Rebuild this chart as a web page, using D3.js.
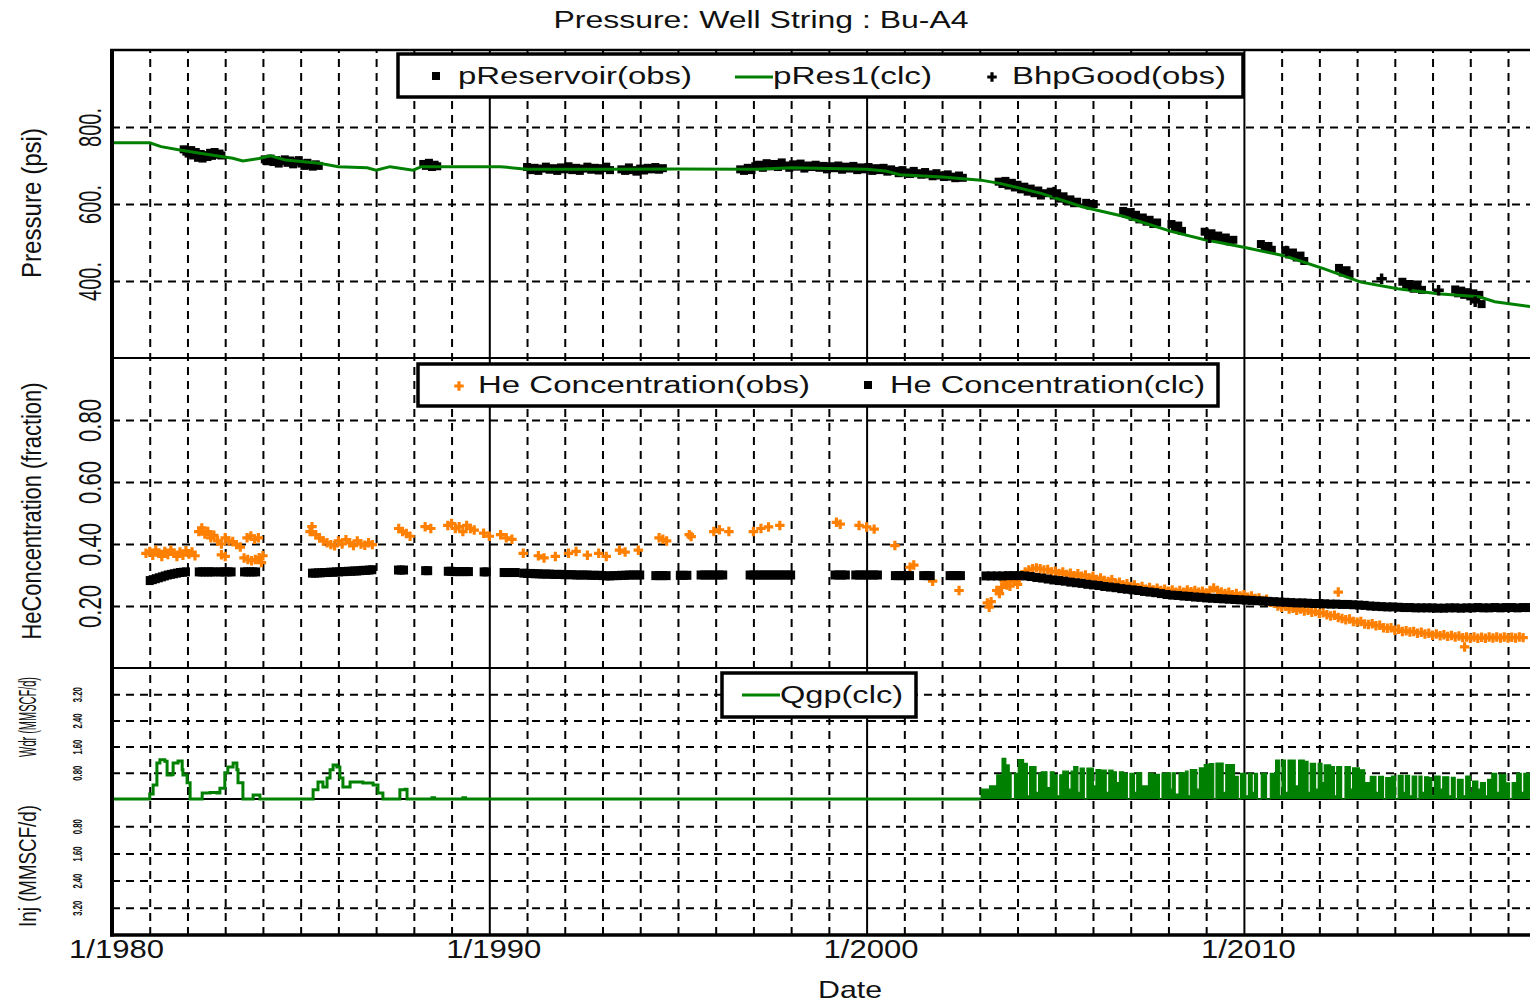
<!DOCTYPE html>
<html><head><meta charset="utf-8">
<script src="https://cdn.jsdelivr.net/npm/d3@7"></script>
<style>
html,body{margin:0;padding:0;background:#fff;}
svg{display:block;font-family:"Liberation Sans",Arial,sans-serif;}
</style></head><body>
<svg id="chart" width="1530" height="1004"></svg>
<script>
// ---------------- DATA ----------------
const decadeTicks = [1980, 1990, 2000, 2010];
const pressureTicks = [400, 600, 800];
const heTicks = [0.2, 0.4, 0.6, 0.8];
const rateTicks = [0.8, 1.6, 2.4, 3.2];

// pRes1(clc) [year, psi]
const pRes1 = [
 [1980.0,759],[1981.0,759],[1981.3,749],[1981.8,740],[1982.33,732],[1982.94,723],[1983.2,719],[1983.47,712],
 [1983.9,718],[1984.2,725],[1984.6,714],[1985.5,706],[1986.0,697],[1986.76,694],[1987.0,688],[1987.37,697],
 [1987.98,688],[1988.2,697],[1989.0,697],[1990.3,697],[1991.0,690],[1993.0,690],[1995.0,691],[1997.0,690],
 [1998.0,694],[1999.0,692],[2000.0,690],[2000.5,686],[2000.88,676],[2002.0,670],[2003.03,662],[2003.56,653],
 [2004.65,627],[2005.71,593],[2006.8,568],[2008.07,529],[2008.94,508],[2010.03,487],[2011.09,465],[2012.15,431],
 [2013.1,397],[2014.08,380],[2015.14,367],[2016.23,359],[2016.65,346],[2017.63,333]
];

// pReservoir(obs) [year, psi]
const pReservoirObs = [
 [1981.9,742],[1981.97,736],[1982.03,731],[1982.1,740],[1982.15,726],[1982.22,735],[1982.28,720],[1982.35,730],
 [1982.4,718],[1982.47,727],[1982.53,722],[1982.6,733],[1982.65,725],[1982.72,735],[1982.78,728],[1982.85,731],[1982.9,726],
 [1984.05,716],[1984.12,711],[1984.2,718],[1984.28,709],[1984.35,714],[1984.42,705],[1984.5,712],[1984.58,716],
 [1984.65,707],[1984.72,713],[1984.8,703],[1984.88,710],[1984.95,714],[1985.02,705],[1985.1,699],[1985.18,707],
 [1985.25,701],[1985.32,697],[1985.4,703],[1985.48,699],
 [1988.25,704],[1988.32,699],[1988.4,707],[1988.48,696],[1988.55,702],[1988.62,698],
 [1991.0,696],[1991.1,688],[1991.2,694],[1991.3,686],[1991.4,692],[1991.5,697],[1991.6,689],[1991.7,693],
 [1991.8,686],[1991.9,695],[1992.0,690],[1992.1,698],[1992.2,688],[1992.3,694],[1992.4,686],[1992.5,692],
 [1992.6,697],[1992.7,689],[1992.8,694],[1992.9,687],[1993.0,693],[1993.1,697],[1993.2,688],
 [1993.5,690],[1993.6,686],[1993.7,695],[1993.8,688],[1993.9,684],[1994.0,692],[1994.1,687],[1994.2,694],
 [1994.3,690],[1994.4,696],[1994.5,689],[1994.6,693],
 [1996.65,690],[1996.75,686],[1996.85,694],[1996.95,688],[1997.05,698],[1997.15,702],[1997.25,694],[1997.35,706],
 [1997.45,698],[1997.55,704],[1997.65,696],[1997.75,708],[1997.85,700],[1997.95,694],[1998.05,703],[1998.15,697],
 [1998.25,705],[1998.35,692],[1998.45,700],[1998.55,696],[1998.65,702],[1998.75,694],[1998.85,699],[1998.95,690],
 [1999.05,698],[1999.15,693],[1999.25,700],[1999.35,689],[1999.45,697],[1999.55,692],[1999.65,699],[1999.75,688],
 [1999.85,695],[1999.95,690],[2000.05,696],[2000.15,686],[2000.25,693],[2000.35,688],[2000.45,694],[2000.55,684],
 [2000.65,690],[2000.75,686],[2000.85,680],[2000.95,688],[2001.05,682],[2001.15,678],[2001.25,686],[2001.35,680],
 [2001.45,676],[2001.55,683],[2001.65,677],[2001.75,672],[2001.85,680],[2001.95,674],[2002.05,670],[2002.15,677],
 [2002.25,671],[2002.35,667],[2002.45,674],[2002.55,668],
 [2003.5,658],[2003.6,652],[2003.68,660],[2003.76,648],[2003.85,655],[2003.93,643],[2004.0,650],[2004.1,638],
 [2004.18,645],[2004.27,632],[2004.35,640],[2004.45,628],[2004.55,635],[2004.62,622],[2004.7,628],
 [2004.88,632],[2004.96,622],[2005.05,628],[2005.14,614],[2005.22,620],[2005.3,608],[2005.4,612],[2005.5,602],[2005.58,606],
 [2005.82,603],[2005.92,596],[2006.02,600],
 [2006.8,582],[2006.88,574],[2006.96,579],[2007.05,567],[2007.14,572],[2007.23,560],[2007.32,565],[2007.42,554],
 [2007.5,559],[2007.6,548],[2007.7,552],
 [2008.08,548],[2008.17,538],[2008.26,544],[2008.36,530],
 [2008.96,528],[2009.05,519],[2009.14,524],[2009.23,513],[2009.32,518],[2009.42,508],[2009.52,513],[2009.62,503],[2009.72,507],
 [2010.45,496],[2010.55,486],[2010.65,491],[2010.74,481],
 [2011.1,480],[2011.2,469],[2011.3,474],[2011.4,461],[2011.5,466],[2011.6,452],
 [2012.52,434],[2012.62,422],[2012.72,428],[2012.8,418],
 [2014.2,398],[2014.3,386],[2014.4,392],[2014.5,380],[2014.6,387],[2014.72,377],
 [2015.6,378],[2015.68,368],[2015.76,375],[2015.84,364],[2015.92,371],[2016.0,360],[2016.08,368],[2016.16,356],
 [2016.24,364],[2016.3,340]
];

// BhpGood(obs) [year, psi]
const bhpGoodObs = [
 [2004.97,631],[2007.06,576],[2009.09,512],[2011.13,478],[2013.65,406],[2014.4,389],[2015.16,376],[2016.13,346]
];

// He Concentration(obs) [year, fraction]
const heObs = [
 [1980.9,0.37],[1981.0,0.376],[1981.08,0.364],[1981.16,0.38],[1981.24,0.37],[1981.32,0.36],[1981.4,0.376],[1981.48,0.366],
 [1981.56,0.38],[1981.64,0.37],[1981.72,0.36],[1981.8,0.374],[1981.88,0.364],[1981.96,0.378],[1982.04,0.368],[1982.12,0.374],[1982.2,0.362],
 [1982.3,0.44],[1982.38,0.452],[1982.46,0.432],[1982.54,0.44],[1982.62,0.42],[1982.7,0.428],[1982.8,0.41],[1982.9,0.4],
 [1982.9,0.365],[1983.0,0.42],[1983.0,0.36],[1983.1,0.41],[1983.2,0.408],[1983.3,0.398],[1983.4,0.39],
 [1983.58,0.42],[1983.68,0.426],[1983.78,0.415],[1983.88,0.42],
 [1983.5,0.355],[1983.6,0.35],[1983.7,0.346],[1983.8,0.35],[1983.9,0.356],[1983.96,0.34],[1984.0,0.362],
 [1985.25,0.44],[1985.3,0.456],[1985.4,0.43],[1985.5,0.42],[1985.6,0.41],[1985.7,0.404],[1985.8,0.398],[1985.9,0.394],
 [1986.0,0.41],[1986.1,0.4],[1986.2,0.414],[1986.3,0.404],[1986.4,0.395],[1986.5,0.41],[1986.6,0.4],[1986.7,0.396],
 [1986.8,0.404],[1986.9,0.398],
 [1987.6,0.45],[1987.7,0.44],[1987.8,0.434],[1987.9,0.425],
 [1988.3,0.456],[1988.45,0.45],
 [1988.9,0.46],[1989.0,0.466],[1989.1,0.45],[1989.2,0.456],[1989.3,0.44],[1989.4,0.46],[1989.5,0.45],[1989.6,0.445],
 [1989.85,0.435],[1990.0,0.425],
 [1990.3,0.43],[1990.45,0.42],[1990.6,0.415],
 [1990.9,0.37],[1991.3,0.362],[1991.45,0.355],[1991.75,0.36],[1992.1,0.37],[1992.3,0.376],[1992.6,0.364],[1992.9,0.37],
 [1993.1,0.36],[1993.45,0.38],[1993.6,0.374],[1993.95,0.38],
 [1994.5,0.42],[1994.6,0.415],[1994.7,0.41],[1995.3,0.43],[1995.35,0.424],[1995.95,0.44],[1996.1,0.446],[1996.35,0.44],
 [1997.0,0.44],[1997.2,0.45],[1997.4,0.455],[1997.7,0.46],
 [1999.2,0.47],[1999.3,0.464],[1999.8,0.46],[2000.0,0.455],[2000.2,0.448],
 [2000.75,0.395],[2001.15,0.325],[2001.25,0.332],[2001.75,0.28],[2002.45,0.25],
 [2003.2,0.21],[2003.25,0.196],[2003.3,0.214],[2003.45,0.25],[2003.52,0.24],[2003.58,0.26],[2003.65,0.28],[2003.72,0.268],
 [2003.8,0.264],[2003.9,0.28],[2004.0,0.27],[2004.05,0.29],[2004.12,0.3],[2004.2,0.31],[2004.3,0.316],[2004.4,0.32],
 [2004.5,0.323],[2004.6,0.32],[2004.7,0.316],[2004.8,0.318],[2004.9,0.31],[2005.0,0.312],[2005.1,0.305],[2005.2,0.31],
 [2005.3,0.302],[2005.4,0.306],[2005.5,0.298],[2005.6,0.304],[2005.7,0.296],[2005.8,0.3],[2005.9,0.29],[2006.0,0.296],
 [2006.1,0.285],[2006.2,0.29],[2006.3,0.282],[2006.4,0.279],[2006.5,0.285],[2006.6,0.272],[2006.7,0.277],[2006.8,0.268],
 [2006.9,0.272],[2007.0,0.263],[2007.1,0.268],[2007.2,0.258],[2007.3,0.263],[2007.4,0.254],[2007.5,0.26],[2007.6,0.252],
 [2007.7,0.257],[2007.8,0.25],[2007.9,0.254],[2008.0,0.248],[2008.1,0.252],[2008.2,0.244],[2008.3,0.25],[2008.4,0.244],
 [2008.5,0.252],[2008.6,0.246],[2008.7,0.25],[2008.8,0.244],[2008.9,0.248],[2009.0,0.242],[2009.1,0.25],[2009.2,0.258],
 [2009.3,0.25],[2009.4,0.245],[2009.5,0.24],[2009.6,0.244],[2009.7,0.236],[2009.8,0.24],[2009.9,0.232],[2010.0,0.236],
 [2010.1,0.228],[2010.2,0.232],[2010.3,0.224],[2010.4,0.226],[2010.5,0.218],[2010.6,0.222],[2010.7,0.212],[2010.8,0.21],
 [2010.9,0.2],[2011.0,0.196],[2011.1,0.2],[2011.2,0.19],[2011.3,0.193],[2011.4,0.186],[2011.5,0.19],[2011.6,0.184],
 [2011.7,0.186],[2011.8,0.18],[2011.9,0.182],[2012.0,0.176],[2012.1,0.178],[2012.2,0.172],[2012.3,0.168],[2012.4,0.17],
 [2012.5,0.245],[2012.5,0.163],[2012.6,0.16],[2012.7,0.156],[2012.8,0.158],[2012.9,0.15],[2013.0,0.148],[2013.1,0.15],
 [2013.2,0.142],[2013.3,0.14],[2013.4,0.143],[2013.5,0.136],[2013.6,0.138],[2013.7,0.13],[2013.8,0.128],[2013.9,0.13],
 [2014.0,0.122],[2014.1,0.125],[2014.2,0.118],[2014.3,0.12],[2014.4,0.116],[2014.5,0.118],[2014.6,0.112],[2014.7,0.115],
 [2014.8,0.11],[2014.9,0.112],[2015.0,0.106],[2015.1,0.11],[2015.2,0.104],[2015.3,0.107],[2015.4,0.102],[2015.5,0.105],
 [2015.6,0.1],[2015.7,0.103],[2015.85,0.068],[2015.8,0.098],[2015.9,0.1],[2016.0,0.096],[2016.1,0.1],[2016.2,0.096],
 [2016.3,0.099],[2016.4,0.096],[2016.5,0.1],[2016.6,0.097],[2016.7,0.1],[2016.8,0.097],[2016.9,0.1],[2017.0,0.097],
 [2017.1,0.099],[2017.2,0.097],[2017.3,0.1],[2017.4,0.098]
];

// He Concentration(clc) [year, fraction]
const heClc = [
 [1981.0,0.282],[1981.08,0.285],[1981.16,0.288],[1981.24,0.291],[1981.32,0.294],[1981.4,0.297],[1981.48,0.3],[1981.56,0.302],
 [1981.64,0.304],[1981.72,0.306],[1981.8,0.308],[1981.88,0.309],[1981.96,0.31],
 [1982.3,0.31],[1982.38,0.31],[1982.46,0.31],[1982.54,0.31],[1982.62,0.31],[1982.7,0.31],
 [1982.85,0.31],[1982.93,0.31],[1983.01,0.31],[1983.09,0.31],[1983.17,0.31],
 [1983.5,0.31],[1983.58,0.31],[1983.66,0.31],[1983.74,0.31],[1983.82,0.31],
 [1985.3,0.306],[1985.38,0.306],[1985.46,0.307],[1985.54,0.307],[1985.62,0.308],[1985.7,0.308],[1985.78,0.309],
 [1985.86,0.309],[1985.94,0.31],[1986.02,0.31],[1986.1,0.311],[1986.18,0.311],[1986.26,0.312],[1986.34,0.312],
 [1986.42,0.313],[1986.5,0.313],[1986.58,0.314],[1986.66,0.315],[1986.74,0.315],[1986.82,0.316],[1986.9,0.317],
 [1987.58,0.316],[1987.66,0.316],[1987.74,0.316],
 [1988.3,0.314],[1988.38,0.314],
 [1988.9,0.312],[1988.98,0.312],[1989.06,0.311],[1989.14,0.311],[1989.22,0.311],[1989.3,0.311],[1989.38,0.311],[1989.46,0.311],
 [1989.85,0.31],[1989.93,0.31],
 [1990.38,0.308],[1990.46,0.308],[1990.54,0.308],[1990.62,0.308],[1990.7,0.308],
 [1990.9,0.306],[1991.0,0.305],[1991.1,0.305],[1991.2,0.304],[1991.3,0.304],[1991.4,0.303],[1991.5,0.303],[1991.6,0.303],
 [1991.7,0.302],[1991.8,0.302],[1991.9,0.302],[1992.0,0.301],[1992.1,0.301],[1992.2,0.301],[1992.3,0.3],[1992.4,0.3],
 [1992.5,0.3],[1992.6,0.3],[1992.7,0.299],[1992.8,0.299],[1992.9,0.299],[1993.0,0.298],[1993.1,0.297],[1993.2,0.297],
 [1993.3,0.298],[1993.4,0.298],[1993.5,0.299],[1993.6,0.299],[1993.7,0.3],[1993.8,0.3],[1993.9,0.3],[1994.0,0.3],
 [1994.4,0.298],[1994.5,0.298],[1994.6,0.298],[1994.7,0.298],
 [1995.05,0.299],[1995.15,0.299],[1995.25,0.299],
 [1995.6,0.3],[1995.7,0.3],[1995.8,0.3],[1995.9,0.3],[1996.0,0.3],[1996.1,0.3],[1996.2,0.3],
 [1996.9,0.3],[1997.0,0.3],[1997.1,0.3],[1997.2,0.3],[1997.3,0.3],[1997.4,0.3],[1997.5,0.3],[1997.6,0.3],
 [1997.7,0.3],[1997.8,0.3],[1997.9,0.3],[1998.0,0.3],
 [1999.15,0.3],[1999.25,0.3],[1999.35,0.3],[1999.45,0.3],
 [1999.7,0.3],[1999.8,0.3],[1999.9,0.3],[2000.0,0.3],[2000.1,0.3],[2000.2,0.3],[2000.3,0.3],
 [2000.75,0.298],[2000.85,0.298],[2000.95,0.298],[2001.05,0.298],[2001.15,0.298],
 [2001.5,0.298],[2001.6,0.298],[2001.7,0.298],
 [2002.2,0.298],[2002.3,0.298],[2002.4,0.298],[2002.5,0.298],
 [2003.15,0.297],[2003.3,0.297],[2003.45,0.297],[2003.6,0.297],[2003.75,0.298],[2003.9,0.298],[2004.05,0.298],[2004.2,0.297],
 [2004.35,0.295],[2004.5,0.292],[2004.65,0.29],[2004.8,0.287],[2004.95,0.284],[2005.1,0.282],[2005.25,0.28],[2005.4,0.277],
 [2005.55,0.275],[2005.7,0.273],[2005.85,0.27],[2006.0,0.268],[2006.15,0.266],[2006.3,0.263],[2006.45,0.261],[2006.6,0.259],
 [2006.75,0.256],[2006.9,0.254],[2007.05,0.252],[2007.2,0.25],[2007.35,0.247],[2007.5,0.245],[2007.65,0.243],[2007.8,0.24],
 [2007.95,0.237],[2008.1,0.235],[2008.25,0.234],[2008.4,0.232],[2008.55,0.231],[2008.7,0.229],[2008.85,0.228],[2009.0,0.226],
 [2009.15,0.225],[2009.3,0.224],[2009.45,0.223],[2009.6,0.222],[2009.75,0.221],[2009.9,0.22],[2010.05,0.219],[2010.2,0.218],
 [2010.35,0.217],[2010.5,0.216],[2010.65,0.215],[2010.8,0.214],[2010.95,0.213],[2011.1,0.212],[2011.25,0.211],[2011.4,0.21],
 [2011.55,0.21],[2011.7,0.209],[2011.85,0.208],[2012.0,0.208],[2012.15,0.207],[2012.3,0.206],[2012.45,0.206],[2012.6,0.205],
 [2012.75,0.205],[2012.9,0.204],[2013.05,0.203],[2013.2,0.202],[2013.35,0.2],[2013.5,0.199],[2013.65,0.198],[2013.8,0.197],
 [2013.95,0.197],[2014.1,0.196],[2014.25,0.195],[2014.4,0.195],[2014.55,0.194],[2014.7,0.194],[2014.85,0.194],[2015.0,0.194],
 [2015.15,0.193],[2015.3,0.193],[2015.45,0.194],[2015.6,0.194],[2015.75,0.193],[2015.9,0.194],[2016.05,0.194],[2016.2,0.195],
 [2016.35,0.194],[2016.5,0.194],[2016.65,0.195],[2016.8,0.194],[2016.95,0.195],[2017.1,0.195],[2017.25,0.194],[2017.4,0.195],[2017.55,0.195]
];

// Qgp(clc) withdrawal rate, MMSCF/d, step-after [year, value]
const qgpEarly = [
 [1980.0,0],[1981.0,0.15],[1981.09,0.43],[1981.19,1.1],[1981.27,1.2],[1981.4,1.15],[1981.46,0.73],[1981.59,0.75],
 [1981.62,1.1],[1981.75,1.16],[1981.86,0.89],[1981.88,0.73],[1981.99,0.5],[1982.07,0],[1982.39,0.18],[1982.6,0.2],
 [1982.78,0.18],[1982.86,0.33],[1982.99,0.8],[1983.07,0.98],[1983.21,1.1],[1983.31,0.89],[1983.34,0.5],[1983.47,0],
 [1983.74,0.12],[1983.92,0],[1985.33,0.28],[1985.46,0.52],[1985.59,0.37],[1985.7,0.64],[1985.78,0.89],[1985.86,1.04],
 [1985.96,0.98],[1986.04,0.64],[1986.12,0.37],[1986.31,0.52],[1986.65,0.49],[1986.92,0.43],[1987.05,0.18],[1987.18,0],
 [1987.63,0.28],[1987.77,0.3],[1987.82,0],[1988.48,0.04],[1988.55,0],[1989.3,0.04],[1989.37,0],[2003.02,0]
];
const qgpLate = [
 [2003.02,0.3],[2003.26,0.4],[2003.45,0.74],[2003.59,1.24],[2003.69,1.04],[2003.78,0.78],[2003.83,0],[2003.92,0.78],
 [2004.02,1.2],[2004.16,1.09],[2004.26,0.1],[2004.32,0.99],[2004.49,0.2],[2004.56,0.78],[2004.63,0.83],[2004.78,0.35],
 [2004.87,0.83],[2004.97,0.74],[2005.05,0.1],[2005.12,0.74],[2005.2,0.85],[2005.35,0.3],[2005.42,0.85],[2005.49,0.99],
 [2005.6,0.2],[2005.66,0.94],[2005.77,0],[2005.84,0.94],[2006.01,0.4],[2006.08,0.9],[2006.2,0.88],[2006.35,0.2],
 [2006.42,0.88],[2006.53,0.83],[2006.62,0.5],[2006.7,0.83],[2006.81,0.78],[2006.91,0],[2006.98,0.78],[2007.1,0.2],
 [2007.16,0.8],[2007.29,0.4],[2007.47,0.78],[2007.6,0.75],[2007.76,0],[2007.83,0.78],[2007.95,0.8],[2008.05,0.3],
 [2008.1,0.8],[2008.18,0.15],[2008.28,0.8],[2008.45,0.85],[2008.52,0.1],[2008.58,0.9],[2008.75,0.3],[2008.82,0.95],
 [2008.95,1.05],[2009.08,1.08],[2009.2,0],[2009.26,1.1],[2009.45,0.2],[2009.52,1.05],[2009.75,0.69],[2009.85,0],
 [2009.91,0.78],[2010.05,0.1],[2010.12,0.78],[2010.22,0.2],[2010.28,0.78],[2010.36,0],[2010.46,0.78],[2010.6,0],
 [2010.7,0.78],[2010.84,1.19],[2010.95,0.1],[2011.01,1.19],[2011.1,0.2],[2011.17,1.19],[2011.36,0.4],[2011.45,1.19],
 [2011.6,1.15],[2011.7,0.2],[2011.76,1.09],[2011.9,0.3],[2011.97,1.09],[2012.07,0.5],[2012.13,1.04],[2012.3,0.99],
 [2012.4,0.1],[2012.46,0.99],[2012.59,0],[2012.68,0.99],[2012.82,0.3],[2012.88,0.95],[2013.06,0.89],[2013.2,0.5],
 [2013.35,0.69],[2013.5,0.2],[2013.57,0.69],[2013.7,0],[2013.76,0.65],[2013.91,0.7],[2014.02,0],[2014.09,0.72],
 [2014.22,0.2],[2014.28,0.72],[2014.39,0.1],[2014.46,0.7],[2014.58,0],[2014.64,0.7],[2014.72,0.2],[2014.79,0.68],
 [2014.9,0.65],[2014.98,0.1],[2015.05,0.7],[2015.2,0.3],[2015.27,0.68],[2015.43,0.1],[2015.5,0.66],[2015.6,0],
 [2015.66,0.6],[2015.81,0.1],[2015.88,0.7],[2016.0,0.2],[2016.06,0.55],[2016.2,0.3],[2016.27,0.5],[2016.4,0.1],
 [2016.46,0.6],[2016.57,0.78],[2016.7,0.2],[2016.77,0.75],[2016.94,0.49],[2017.04,0],[2017.11,0.5],[2017.23,0.78],
 [2017.35,0.2],[2017.42,0.78],[2017.7,0.78]
];

// ---------------- LAYOUT ----------------
const W = 1530, H = 1004;
const L = 112, T = 50, B = 935;
const GREEN = '#008000', ORANGE = '#ff8000', INK = '#111';

const x   = d3.scaleLinear().domain([1980, 2018]).range([L, L + 38 * 37.73]);
const yP  = d3.scaleLinear().domain([200, 1000]).range([358, T]);
const yHe = d3.scaleLinear().domain([0, 1]).range([668, 358]);
const yW  = d3.scaleLinear().domain([0, 4]).range([799, 668]);
const yI  = d3.scaleLinear().domain([0, 4]).range([799, B]);

const svg = d3.select('#chart');
svg.append('rect').attr('width', W).attr('height', H).attr('fill', '#fff');

svg.append('defs').append('clipPath').attr('id', 'plot')
  .append('rect').attr('x', L).attr('y', T).attr('width', W - L).attr('height', B - T);

// ---------------- GRID ----------------
function hGrid(scale, ticks) {
  const g = svg.append('g').attr('transform', `translate(${L},0)`)
    .call(d3.axisLeft(scale).tickValues(ticks).tickSize(-(W - L)).tickFormat(''));
  g.select('.domain').remove();
  g.selectAll('.tick line').attr('stroke', '#000').attr('stroke-width', 2).attr('stroke-dasharray', '8,6');
}
hGrid(yP, pressureTicks);
hGrid(yHe, heTicks);
hGrid(yW, rateTicks);
hGrid(yI, rateTicks);

const vg = svg.append('g').attr('transform', `translate(0,${B})`)
  .call(d3.axisBottom(x).tickValues(d3.range(1981, 2018)).tickSize(-(B - T)).tickFormat(''));
vg.select('.domain').remove();
vg.selectAll('.tick line').attr('stroke', '#000').attr('stroke-width', 2)
  .attr('stroke-dasharray', d => d % 10 === 0 ? null : '8,6');

// panel separators
[yP(200), yHe(0), yW(0)].forEach(yy => {
  svg.append('line').attr('x1', L).attr('x2', W).attr('y1', yy).attr('y2', yy)
    .attr('stroke', '#000').attr('stroke-width', 2);
});

// ---------------- DATA MARKS ----------------
const plot = svg.append('g').attr('clip-path', 'url(#plot)');

// pressure obs squares
plot.append('g').selectAll('rect').data(pReservoirObs).join('rect')
  .attr('x', d => x(d[0]) - 4).attr('y', d => yP(d[1]) - 4)
  .attr('width', 8).attr('height', 8).attr('fill', '#000');
// pRes1 line
plot.append('path').datum(pRes1)
  .attr('d', d3.line().x(d => x(d[0])).y(d => yP(d[1])))
  .attr('fill', 'none').attr('stroke', GREEN).attr('stroke-width', 3);
// BhpGood
plot.append('g').selectAll('path').data(bhpGoodObs).join('path')
  .attr('transform', d => `translate(${x(d[0])},${yP(d[1])})`)
  .attr('d', d3.symbol(d3.symbolCross, 60)).attr('fill', '#000');

// He obs
plot.append('g').selectAll('path').data(heObs).join('path')
  .attr('transform', d => `translate(${x(d[0])},${yHe(d[1])})`)
  .attr('d', d3.symbol(d3.symbolCross, 50)).attr('fill', ORANGE);
// He clc
plot.append('g').selectAll('rect').data(heClc).join('rect')
  .attr('x', d => x(d[0]) - 4).attr('y', d => yHe(d[1]) - 4.5)
  .attr('width', 8).attr('height', 9).attr('fill', '#000');

// Qgp
plot.append('path').datum(qgpLate)
  .attr('d', d3.area().curve(d3.curveStepAfter).x(d => x(d[0])).y0(yW(0)).y1(d => yW(d[1])))
  .attr('fill', GREEN);
const qLine = d3.line().curve(d3.curveStepAfter).x(d => x(d[0])).y(d => yW(d[1]));
plot.append('path').datum(qgpLate).attr('d', qLine)
  .attr('fill', 'none').attr('stroke', GREEN).attr('stroke-width', 1.2);
plot.append('path').datum(qgpEarly).attr('d', qLine)
  .attr('fill', 'none').attr('stroke', GREEN).attr('stroke-width', 3);

// ---------------- BORDERS ----------------
svg.append('line').attr('x1', L).attr('x2', L).attr('y1', T - 1).attr('y2', B + 1.5).attr('stroke', '#000').attr('stroke-width', 4);
svg.append('line').attr('x1', L - 2).attr('x2', W).attr('y1', B).attr('y2', B).attr('stroke', '#000').attr('stroke-width', 3.5);
svg.append('line').attr('x1', L - 2).attr('x2', W).attr('y1', T).attr('y2', T).attr('stroke', '#000').attr('stroke-width', 2.5);

// ---------------- TEXT ----------------
function rotText(cx, cy, str, size, len, sx, weight) {
  svg.append('text')
    .attr('transform', `translate(${cx},${cy}) scale(${sx},1) rotate(-90)`)
    .attr('text-anchor', 'middle').attr('dy', '0.35em')
    .attr('font-size', size).attr('font-weight', weight || 'normal')
    .attr('textLength', len).attr('lengthAdjust', 'spacingAndGlyphs')
    .attr('fill', INK).text(str);
}

// title
svg.append('text').attr('x', 761).attr('y', 28).attr('text-anchor', 'middle')
  .attr('font-size', 23).attr('textLength', 415).attr('lengthAdjust', 'spacingAndGlyphs')
  .attr('fill', INK).text('Pressure: Well String : Bu-A4');

// y axis labels (tick labels via axes)
function yLabels(scale, ticks, fmt, cx, size, len, sx, weight) {
  const g = svg.append('g').attr('transform', `translate(${L},0)`)
    .call(d3.axisLeft(scale).tickValues(ticks).tickSize(0).tickFormat(fmt));
  g.select('.domain').remove();
  g.selectAll('.tick text')
    .attr('x', null).attr('dy', '0.35em').attr('text-anchor', 'middle')
    .attr('transform', `translate(${cx - L},0) scale(${sx},1) rotate(-90)`)
    .attr('font-size', size).attr('font-weight', weight || 'normal')
    .attr('font-family', '"Liberation Sans",Arial,sans-serif')
    .attr('textLength', len).attr('lengthAdjust', 'spacingAndGlyphs')
    .attr('fill', INK);
}
yLabels(yP, pressureTicks, d => d + '.', 90, 21, 39, 1.5);
yLabels(yHe, heTicks, d3.format('.2f'), 90, 21, 43, 1.5);
yLabels(yW, rateTicks, d3.format('.2f'), 78, 8, 15, 1.5, 'bold');
yLabels(yI, rateTicks, d3.format('.2f'), 78, 8, 15, 1.5, 'bold');

rotText(31, 203, 'Pressure (psi)', 22, 150, 1.25);
rotText(31, 511, 'HeConcentration (fraction)', 22, 257, 1.25);
rotText(28, 717, 'Wdr (MMSCF/d)', 17, 80, 1.4);
rotText(28, 866, 'Inj (MMSCF/d)', 17, 122, 1.4);

// x axis labels
const xa = svg.append('g').attr('transform', `translate(0,${B})`)
  .call(d3.axisBottom(x).tickValues(decadeTicks).tickSize(0).tickFormat(d => '1/' + d));
xa.select('.domain').remove();
xa.selectAll('.tick text').attr('y', 23).attr('dy', 0).attr('x', 4)
  .attr('font-size', 25).attr('font-family', '"Liberation Sans",Arial,sans-serif')
  .attr('textLength', 95).attr('lengthAdjust', 'spacingAndGlyphs').attr('fill', INK);

svg.append('text').attr('x', 850).attr('y', 998).attr('text-anchor', 'middle')
  .attr('font-size', 24).attr('textLength', 64).attr('lengthAdjust', 'spacingAndGlyphs')
  .attr('fill', INK).text('Date');

// ---------------- LEGENDS ----------------
function legendBox(x0, y0, x1, y1) {
  svg.append('rect').attr('x', x0).attr('y', y0).attr('width', x1 - x0).attr('height', y1 - y0)
    .attr('fill', '#fff').attr('stroke', '#000').attr('stroke-width', 3.5);
}
function legendText(x0, y, str, len) {
  svg.append('text').attr('x', x0).attr('y', y).attr('font-size', 23)
    .attr('textLength', len).attr('lengthAdjust', 'spacingAndGlyphs')
    .attr('fill', INK).text(str);
}
// legend 1
legendBox(398, 54, 1243, 97);
svg.append('rect').attr('x', 432).attr('y', 72).attr('width', 8).attr('height', 8).attr('fill', '#000');
legendText(458, 84, 'pReservoir(obs)', 234);
svg.append('line').attr('x1', 735).attr('x2', 773).attr('y1', 77).attr('y2', 77).attr('stroke', GREEN).attr('stroke-width', 3);
legendText(773, 84, 'pRes1(clc)', 159);
svg.append('path').attr('transform', 'translate(992,77)').attr('d', d3.symbol(d3.symbolCross, 50)).attr('fill', '#000');
legendText(1012, 84, 'BhpGood(obs)', 214);
// legend 2
legendBox(418, 364, 1218, 406);
svg.append('path').attr('transform', 'translate(459,386)').attr('d', d3.symbol(d3.symbolCross, 50)).attr('fill', ORANGE);
legendText(478, 393, 'He Concentration(obs)', 332);
svg.append('rect').attr('x', 864).attr('y', 381).attr('width', 8).attr('height', 8).attr('fill', '#000');
legendText(890, 393, 'He Concentration(clc)', 315);
// legend 3
legendBox(722, 673, 916, 717);
svg.append('line').attr('x1', 742).attr('x2', 780).attr('y1', 695).attr('y2', 695).attr('stroke', GREEN).attr('stroke-width', 3);
legendText(780, 703, 'Qgp(clc)', 123);
</script>
</body></html>
